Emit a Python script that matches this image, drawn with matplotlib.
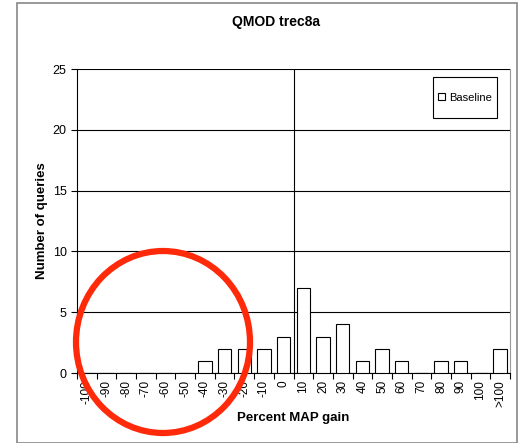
import matplotlib
matplotlib.use("Agg")
import matplotlib.pyplot as plt
from matplotlib.patches import Ellipse, Rectangle
import numpy as np

plt.rcParams['font.family'] = ['Liberation Sans', 'DejaVu Sans']

categories = ["-100", "-90", "-80", "-70", "-60", "-50", "-40", "-30", "-20", "-10",
              "0", "10", "20", "30", "40", "50", "60", "70", "80", "90", "100", ">100"]
baseline = [0, 0, 0, 0, 0, 0, 1, 2, 2, 2, 3, 7, 3, 4, 1, 2, 1, 0, 1, 1, 0, 2]

fig = plt.figure(figsize=(5.28, 4.43), dpi=100)
ax = fig.add_axes([77/528, 1-373/443, (510-77)/528, (373-69)/443])

x = np.arange(len(categories))
ax.bar(x, baseline, width=0.68, color='white', edgecolor='black', linewidth=0.8,
       label='Baseline', zorder=3)
ax.set_xlim(-0.5, len(categories) - 0.5)
ax.set_ylim(0, 25)
ax.set_yticks([0, 5, 10, 15, 20, 25])
ax.yaxis.grid(True, color='black', linewidth=0.8)
ax.set_axisbelow(True)
ax.axvline(10.5, color='black', linewidth=0.8, zorder=2)

ax.set_xticks(x)
ax.set_xticklabels(categories, rotation=90, fontsize=8.5)
ax.tick_params(axis='x', length=0, pad=5)
# boundary tick marks
ax.set_xticks(np.arange(-0.5, len(categories) + 0.5, 1), minor=True)
ax.tick_params(axis='x', which='minor', length=4, width=0.8)
ax.tick_params(axis='y', labelsize=9, length=4, width=0.8)

ax.spines['top'].set_visible(False)
ax.spines['right'].set_color('#999999')
ax.spines['left'].set_linewidth(0.8)
ax.spines['bottom'].set_linewidth(0.8)

ax.set_ylabel('Number of queries', fontsize=9.5, fontweight='bold', labelpad=3)
ax.set_xlabel('Percent MAP gain', fontsize=9.5, fontweight='bold', labelpad=4)
fig.text(276/528, 1-22/443, 'QMOD trec8a', ha='center', va='center',
         fontsize=10, fontweight='bold')

# legend box
bx, by, bw, bh = 0.896, 0.906, 0.148, 0.135
ax.add_patch(Rectangle((bx - bw/2, by - bh/2), bw, bh, transform=ax.transAxes,
                       facecolor='white', edgecolor='black', linewidth=0.8, zorder=4))
leg = ax.legend(loc='center', bbox_to_anchor=(bx, by), fontsize=8,
                frameon=False, handlelength=0.6, handleheight=0.6,
                handletextpad=0.4, borderpad=0, borderaxespad=0)
leg.set_zorder(5)

fig.add_artist(Rectangle((17/528, 0), 500/528, 1-3/443, transform=fig.transFigure,
                         fill=False, edgecolor='#888888', linewidth=1.2))
fig.add_artist(Ellipse((163/528, 1-342/443), width=174/528, height=182/443,
                       transform=fig.transFigure, fill=False, edgecolor='#ff2a0a',
                       linewidth=4.5, zorder=10))

fig.savefig('out.png', dpi=100)
